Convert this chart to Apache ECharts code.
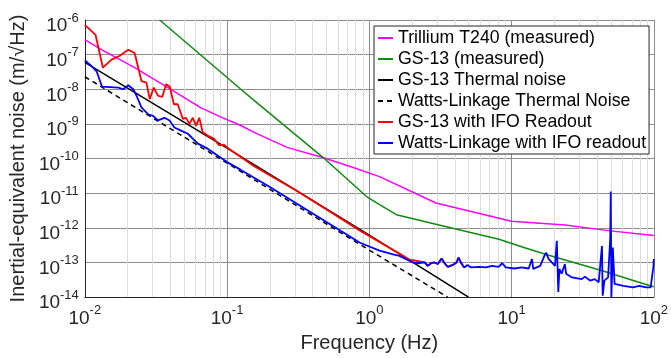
<!DOCTYPE html>
<html>
<head>
<meta charset="utf-8">
<script src="https://cdn.jsdelivr.net/npm/echarts@6/dist/echarts.min.js"></script>
<style>
  html, body { margin: 0; padding: 0; background: #fff; }
  #chart { width: 671px; height: 358px; }
</style>
</head>
<body>
<div id="chart"></div>
<script>
// values (frequency in Hz, noise in m/sqrt(Hz))
const seriesNames = [
  'Trillium T240 (measured)',
  'GS-13 (measured)',
  'GS-13 Thermal noise',
  'Watts-Linkage Thermal Noise',
  'GS-13 with IFO Readout',
  'Watts-Linkage with IFO readout'
];

const trilliumF = [0.01, 0.0131, 0.0224, 0.0384, 0.0656, 0.09, 0.125, 0.155, 0.264, 0.476, 0.77, 1.18, 2.94, 10, 23.8, 47.8, 100];
const trilliumV = [2.7e-7, 1.39e-7, 4.2e-8, 1.12e-8, 2.9e-9, 1.6e-9, 9e-10, 5.7e-10, 2.1e-10, 1.05e-10, 5.5e-11, 3e-11, 5.2e-12, 1.55e-12, 1.2e-12, 8.3e-13, 6e-13];

const gs13F = [0.0336, 0.125, 0.151, 0.476, 0.956, 1.18, 1.55, 2.94, 8.15, 12.2, 17.3, 44, 86, 100];
const gs13V = [1e-6, 1e-8, 5.2e-9, 1.05e-10, 8e-12, 4.7e-12, 2.4e-12, 1.26e-12, 4.7e-13, 2.7e-13, 1.73e-13, 5.7e-14, 2.4e-14, 2e-14];

const gsThermalF = [0.01, 0.1, 1, 4.98];
const gsThermalV = [6e-8, 2e-10, 6.2e-13, 1e-14];

const wlThermalF = [0.01, 0.1, 0.86, 3.55];
const wlThermalV = [2.3e-8, 7.4e-11, 3.3e-13, 1e-14];

const gsIfoF = [0.01, 0.0119, 0.0134, 0.0154, 0.0176, 0.0202, 0.0224, 0.025, 0.0271, 0.0286, 0.0305, 0.0327, 0.035,
  0.0373, 0.0395, 0.0423, 0.045, 0.0489, 0.0515, 0.0543, 0.0574, 0.0605, 0.0638, 0.0674, 0.073, 0.081, 0.088, 0.095,
  0.1, 0.155, 0.3, 0.5, 0.86, 1.3, 1.63, 1.92, 2.31, 2.45, 2.57, 2.72, 2.87, 3.03, 3.22, 3.38, 3.56, 3.86, 4.1, 4.24, 4.4, 4.64];
const gsIfoV = [7.2e-7, 3.7e-7, 4.2e-8, 7.2e-8, 9.3e-8, 1.39e-7, 1.12e-7, 1.73e-8, 1.55e-8, 5.2e-9, 1.12e-8, 6.5e-9, 6e-9,
  1.39e-8, 1.2e-8, 3.7e-9, 3.7e-9, 1.39e-9, 1.5e-9, 1e-9, 1.5e-9, 8.9e-10, 1.5e-9, 5.7e-10, 4.6e-10, 3.7e-10, 2.4e-10, 2.5e-10,
  2.1e-10, 6e-11, 1.25e-11, 3.4e-12, 8.3e-13, 3.1e-13, 1.8e-13, 1.2e-13, 1.05e-13, 1e-13, 8e-14, 9.5e-14, 1e-13, 9e-14, 1.3e-13, 9.5e-14, 7.5e-14, 8.5e-14, 1e-13, 1.39e-13, 1e-13, 7.2e-14];

const wlIfoF = [0.01, 0.0112, 0.0121, 0.0132, 0.0172, 0.0186, 0.0202, 0.0219, 0.0231, 0.025, 0.0279, 0.0302, 0.0327,
  0.0363, 0.0394, 0.0426, 0.0475, 0.053, 0.0623, 0.073, 0.1, 0.125, 0.2, 0.4, 0.86, 1.18, 1.47, 1.63, 2.02, 2.25, 2.45,
  2.57, 2.72, 2.87, 3.03, 3.22, 3.38, 3.56, 3.86, 4.1, 4.24, 4.4, 4.64, 4.9, 5.17, 5.94, 6.6, 7.3, 8.1, 8.6, 9.1, 10.5,
  11.8, 13.2, 13.6, 13.9, 14.2, 15.9, 17, 17.5, 18.2, 19.2, 20.2, 20.8, 21.3, 21.7, 22.5, 23.7, 24.2, 26.6, 31.1, 32.8,
  35.6, 38.4, 41, 43.2, 43.7, 44.9, 47.7, 49.4, 49.8, 50.3, 51, 51.5, 53, 61, 71.5, 79, 88, 95, 99.5, 100];
const wlIfoV = [6.9e-8, 4.6e-8, 3.3e-8, 1.2e-8, 1.12e-8, 1e-8, 1.3e-8, 1e-8, 6.5e-9, 3e-9, 1.9e-9, 1.7e-9, 1.26e-9,
  1.5e-9, 1.26e-9, 7.9e-10, 6.4e-10, 5.2e-10, 2.7e-10, 1.93e-10, 7.9e-11, 4.7e-11, 1.5e-11, 2.6e-12, 3.7e-13, 2.2e-13, 1.7e-13, 1.55e-13, 1e-13, 9.5e-14, 1e-13,
  8e-14, 9.5e-14, 1e-13, 9e-14, 1.3e-13, 9.5e-14, 7.5e-14, 8.5e-14, 1e-13, 1.39e-13, 1e-13, 7.2e-14, 8.5e-14, 7.2e-14, 7.5e-14, 7.2e-14, 8e-14, 7.5e-14, 9.5e-14, 7.2e-14, 6.7e-14,
  7.2e-14, 6.7e-14, 6.5e-14, 1.26e-13, 6.5e-14, 8e-14, 1.55e-13, 1.93e-13, 1.26e-13, 1e-13, 8e-14, 4.2e-13, 1.4e-14, 6.5e-14, 4.7e-14, 9e-14, 4.7e-14, 3.7e-14, 3.3e-14, 3.9e-14,
  3e-14, 3.3e-14, 2.7e-14, 3e-13, 1.1e-14, 3e-14, 3.7e-14, 5e-13, 1.12e-11, 1e-14, 5.9e-14, 2.7e-13, 2.4e-14, 2.1e-14, 1.9e-14, 2.1e-14, 1.9e-14, 1.9e-14, 8e-14, 1.26e-13];

// decade ranges of the axes
const xDecades = [-2, -1, 0, 1];
const yDecades = [-14, -13, -12, -11, -10, -9, -8, -7];

const FONT = '"Liberation Sans", Arial, Helvetica, sans-serif';
const TXT = '#262626';

function pairs(f, v) {
  return f.map((x, i) => [x, v[i]]);
}

// log-style minor grid lines (2..9 in each decade)
function minorValues(decades) {
  const out = [];
  decades.forEach(d => {
    for (let k = 2; k <= 9; k++) out.push(Number((k * Math.pow(10, d)).toPrecision(3)));
  });
  return out;
}

function powLabel(v) {
  const e = Math.round(Math.log10(v));
  return '{b|10}{s|' + e + '}';
}

const labelRich = {
  b: { fontSize: 19, fontFamily: FONT, color: TXT, lineHeight: 24, verticalAlign: 'bottom' },
  s: { fontSize: 13, fontFamily: FONT, color: TXT, lineHeight: 18, verticalAlign: 'top' }
};

function lineSeries(idx, f, v, color, width, z, dash) {
  return {
    name: seriesNames[idx],
    type: 'line',
    symbol: 'none',
    z: z,
    lineStyle: { color: color, width: width, type: dash || 'solid' },
    itemStyle: { color: color },
    data: pairs(f, v)
  };
}

const chart = echarts.init(document.getElementById('chart'), null, { renderer: 'canvas' });

const minorLines = minorValues(xDecades).map(v => ({ xAxis: v }))
  .concat(minorValues(yDecades).map(v => ({ yAxis: v })));

const option = {
  animation: false,
  grid: { left: 83, right: 15, top: 20, bottom: 58 },
  legend: {
    orient: 'vertical',
    left: 374,
    top: 26,
    padding: [3, 3, 2, 3],
    itemWidth: 15,
    itemHeight: 14,
    itemGap: 3,
    z: 20,
    backgroundColor: '#fff',
    borderColor: TXT,
    borderWidth: 1,
    itemStyle: { opacity: 0 },
    textStyle: { fontSize: 17.7, color: '#000', fontFamily: FONT },
    data: seriesNames
  },
  xAxis: {
    type: 'log',
    logBase: 10,
    min: 0.01,
    max: 100,
    splitNumber: 4,
    name: 'Frequency (Hz)',
    nameLocation: 'middle',
    nameGap: 33,
    nameTextStyle: { fontSize: 20, color: TXT, fontFamily: FONT },
    axisLine: { onZero: false, lineStyle: { color: TXT, width: 1 } },
    axisTick: { show: false },
    axisLabel: { margin: 7, formatter: powLabel, rich: labelRich },
    splitLine: { show: true, lineStyle: { color: '#8c8c8c', width: 1 } }
  },
  yAxis: {
    type: 'log',
    logBase: 10,
    min: 1e-14,
    max: 1e-6,
    splitNumber: 8,
    name: 'Inertial-equivalent noise (m/\u221AHz)',
    nameLocation: 'middle',
    nameGap: 52,
    nameTextStyle: { fontSize: 20, color: TXT, fontFamily: FONT },
    axisLine: { onZero: false, lineStyle: { color: TXT, width: 1 } },
    axisTick: { show: false },
    axisLabel: { margin: 6, padding: [7, 0, 0, 0], formatter: powLabel, rich: labelRich },
    splitLine: { show: true, lineStyle: { color: '#8c8c8c', width: 1 } }
  },
  series: [
    {
      type: 'line',
      data: [[1, 1e-10]],
      symbol: 'none',
      lineStyle: { opacity: 0 },
      silent: true,
      z: 1,
      markLine: {
        silent: true,
        z: 1,
        symbol: ['none', 'none'],
        label: { show: false },
        lineStyle: { color: '#dcdcdc', width: 1, type: 'solid' },
        data: minorLines
      }
    },
    lineSeries(0, trilliumF, trilliumV, '#ff00ff', 1.5, 3),
    lineSeries(1, gs13F, gs13V, '#118a11', 1.5, 3),
    lineSeries(2, gsThermalF, gsThermalV, '#000000', 1.5, 3),
    lineSeries(3, wlThermalF, wlThermalV, '#000000', 1.5, 3, [5, 4]),
    lineSeries(4, gsIfoF, gsIfoV, '#ff0000', 1.8, 4),
    lineSeries(5, wlIfoF, wlIfoV, '#0000ff', 1.8, 5)
  ]
};

chart.setOption(option);
</script>
</body>
</html>
